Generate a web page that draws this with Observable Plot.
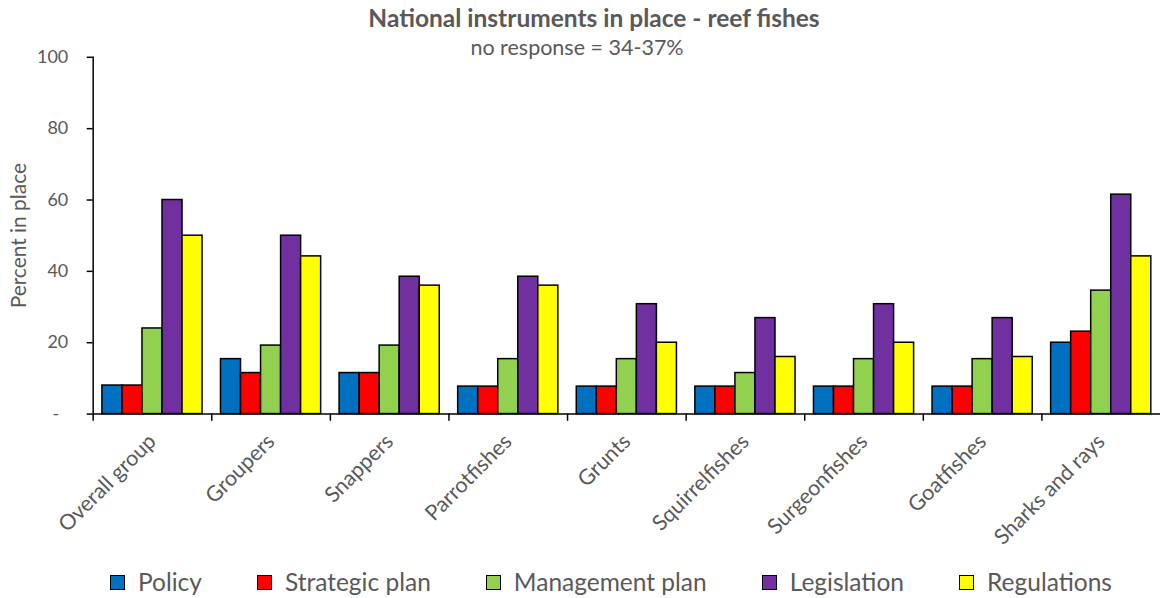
<!DOCTYPE html>
<html><head><meta charset="utf-8">
<script src="https://cdn.jsdelivr.net/npm/d3@7"></script>
<script src="https://cdn.jsdelivr.net/npm/@observablehq/plot@0.6"></script>
<style>
html,body{margin:0;padding:0;background:#fff;overflow:hidden;}
#wrap{position:relative;width:1163px;height:598px;font-family:Lato,"Open Sans",sans-serif;color:#595959;}
#chart{position:absolute;top:0;left:0;}
#title{position:absolute;top:3px;left:0;width:1188px;text-align:center;font-weight:bold;font-size:24.5px;line-height:30px;}
#subtitle{position:absolute;top:34px;left:0;width:1154px;text-align:center;font-size:21.5px;line-height:26px;}
#legend{position:absolute;top:565px;left:110px;display:flex;gap:55px;font-size:24.5px;line-height:34px;white-space:nowrap;}
.item{display:flex;align-items:center;gap:13px;}
.sw{width:13px;height:13px;border:1.5px solid #000;}
</style></head><body><div id="wrap"></div>
<script>
const title = "National instruments in place - reef fishes";
const subtitle = "no response = 34-37%";
const yLabel = "Percent in place";
const categories = ["Overall group","Groupers","Snappers","Parrotfishes","Grunts","Squirrelfishes","Surgeonfishes","Goatfishes","Sharks and rays"];
const series = ["Policy","Strategic plan","Management plan","Legislation","Regulations"];
const colors = ["#0070C0","#FF0000","#92D050","#7030A0","#FFFF00"];
const policy      = [8, 15.4, 11.5, 7.7, 7.7, 7.7, 7.7, 7.7, 20];
const strategic   = [8, 11.5, 11.5, 7.7, 7.7, 7.7, 7.7, 7.7, 23.1];
const management  = [24, 19.2, 19.2, 15.4, 15.4, 11.5, 15.4, 15.4, 34.6];
const legislation = [60, 50, 38.5, 38.5, 30.8, 26.9, 30.8, 26.9, 61.5];
const regulations = [50, 44.2, 36, 36, 20, 16, 20, 16, 44.2];
const yTicks = [0, 20, 40, 60, 80, 100];
const yTickLabels = ["-\u00a0\u00a0", "20", "40", "60", "80", "100"];

const values = [policy, strategic, management, legislation, regulations];
const data = categories.flatMap((c, i) => series.map((s, j) => ({category: c, series: s, value: values[j][i]})));

const W = 1167, H = 565, mTop = 57, mBottom = 150, mLeft = 90, mRight = 0;
const plotH = H - mTop - mBottom;

const chart = Plot.plot({
  width: W, height: H,
  marginTop: mTop, marginBottom: mBottom, marginLeft: mLeft, marginRight: mRight,
  style: {fontFamily: "Lato, 'Open Sans', sans-serif", color: "#595959", background: "transparent", overflow: "visible"},
  fx: {domain: categories, padding: 0, label: null, axis: null},
  x: {domain: series, paddingInner: 0, paddingOuter: 0.46, round: false, axis: null},
  y: {domain: [0, 100], label: null, axis: null},
  color: {domain: series, range: colors},
  marks: [
    Plot.barY(data, {fx: "category", x: "series", y: "value", fill: "series", stroke: "#000", strokeWidth: 1.5}),
    Plot.ruleY([0], {stroke: "#000", strokeWidth: 1.5}),
    Plot.frame({anchor: "left", insetTop: plotH, insetBottom: -6, stroke: "#000", strokeWidth: 1.5}),
    Plot.frame({anchor: "left", facet: "super", stroke: "#000", strokeWidth: 1.5}),
    Plot.axisY({ticks: yTicks, tickFormat: d => yTickLabels[yTicks.indexOf(d)], tickSize: 6, tickPadding: 19,
      fontSize: 18, stroke: "#000", strokeWidth: 1.5, label: null}),
    Plot.axisY({ticks: [], tickSize: 0, fontSize: 21, label: yLabel, labelAnchor: "center", labelArrow: "none", labelOffset: 82}),
    Plot.axisFx({anchor: "bottom", tickRotate: -45, tickSize: 0, tickPadding: 24, fontSize: 21.5, label: null})
  ]
});
chart.id = "chart";
const wrap = document.getElementById("wrap");
wrap.appendChild(chart);

const t = document.createElement("div"); t.id = "title"; t.textContent = title; wrap.appendChild(t);
const st = document.createElement("div"); st.id = "subtitle"; st.textContent = subtitle; wrap.appendChild(st);

const leg = document.createElement("div"); leg.id = "legend";
series.forEach((s, i) => {
  const it = document.createElement("div"); it.className = "item";
  const sw = document.createElement("div"); sw.className = "sw"; sw.style.background = colors[i];
  const tx = document.createElement("span"); tx.textContent = s;
  it.appendChild(sw); it.appendChild(tx); leg.appendChild(it);
});
wrap.appendChild(leg);
</script></body></html>
